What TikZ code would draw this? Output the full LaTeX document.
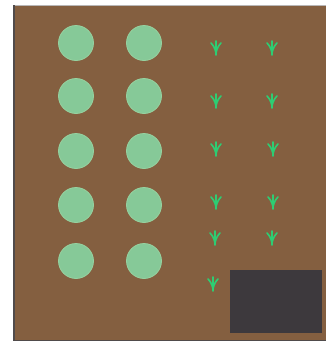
\documentclass[tikz,border=0pt]{standalone}
\definecolor{soil}{RGB}{132,95,64}
\definecolor{bush}{RGB}{134,201,152}
\definecolor{bushedge}{RGB}{150,210,160}
\definecolor{sprout}{RGB}{45,205,115}
\definecolor{pad}{RGB}{61,57,61}
\definecolor{edgegray}{RGB}{80,75,75}
\begin{document}
\begin{tikzpicture}[x=1pt,y=-1pt,
  bushnode/.style={circle,fill=bush,draw=bushedge,line width=0.8pt,minimum size=35pt,inner sep=0pt},
  sproutline/.style={draw=sprout,line width=1.6pt,line cap=round},
  sproutpic/.pic={
    \draw[sproutline] (0,-7) -- (0,7);
    \draw[sproutline] (0,5) .. controls (-1,0) and (-3,-3) .. (-5,-5);
    \draw[sproutline] (0,5) .. controls (1,0) and (3,-3) .. (5,-5);
  }]
\useasboundingbox (0,0) rectangle (326,341);
\fill[white] (0,0) rectangle (326,341);
\fill[soil] (13,5) rectangle (326,340);
\draw[edgegray!40,line width=0.8pt] (13,5) -- (326,5);
\draw[edgegray,line width=2pt] (14,5) -- (14,340);
\draw[edgegray,line width=1pt] (13,340) -- (326,340);
\fill[pad] (230,270) rectangle (322,333);
\foreach \r/\y in {1/43,2/96,3/151,4/205,5/261}{
  \node[bushnode] (bl\r) at (76,\y) {};
  \node[bushnode] (br\r) at (144,\y) {};
}
\foreach \x/\y in {216/48,272/48,216/101,272/101,216/149,273/149,216/202,273/202,215/238,272/238,213/284}{
  \pic at (\x,\y) {sproutpic};
}
\end{tikzpicture}
\end{document}
